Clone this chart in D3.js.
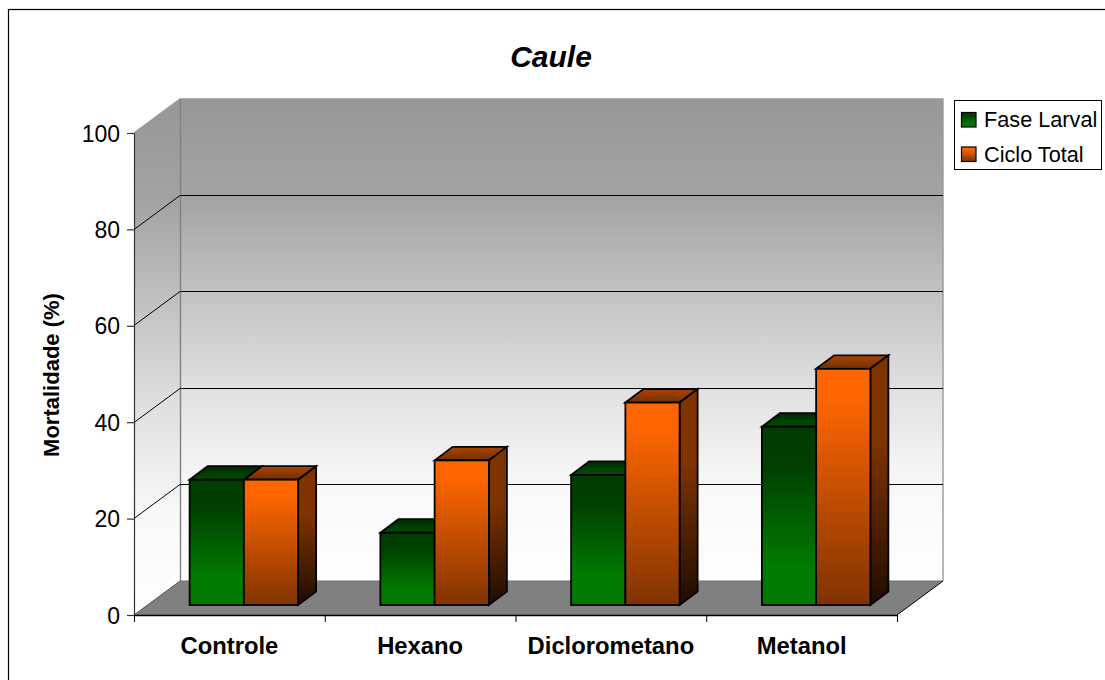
<!DOCTYPE html>
<html><head><meta charset="utf-8">
<script src="https://cdn.jsdelivr.net/npm/d3@7"></script>
<style>html,body{margin:0;padding:0;background:#fff}svg{display:block}text{font-family:"Liberation Sans",Arial,sans-serif;fill:#000}</style>
</head><body><svg id="c" width="1105" height="680"></svg>
<script>
const categories=["Controle","Hexano","Diclorometano","Metanol"];
const seriesNames=["Fase Larval","Ciclo Total"];
const faseLarval=[26,15,27,37];
const cicloTotal=[26,30,42,49];
const yTicks=[0,20,40,60,80,100];
const titleText="Caule", yTitle="Mortalidade (%)";

const svg=d3.select("#c");
const X0=134,X1=897,Y0=615,Y100=133,DX=46,DY=34; // plot box and wall depth
const barDX=18,barDY=13.5,barFrontDX=14.5,barFrontDY=10;
const x=d3.scaleBand().domain(categories).range([X0,X1]);
const y=d3.scaleLinear().domain([0,100]).range([Y0,Y100]);
const s=d3.scaleBand().domain(seriesNames).range([0,108.5]);
const colors={
 "Fase Larval":{front:[["0%","#003c00"],["22%","#004000"],["78%","#007a00"],["100%","#007a00"]],top:["#002800","#005000"]},
 "Ciclo Total":{front:[["0%","#ff6600"],["12%","#ff6600"],["100%","#7f3300"]],side:[["0%","#7f3300"],["35%","#7f3300"],["100%","#1f0c00"]],top:["#ad4500","#703000"]}
};
const defs=svg.append("defs");
function grad(id,stops){const g=defs.append("linearGradient").attr("id",id).attr("x1",0).attr("y1",0).attr("x2",0).attr("y2",1);
 stops.forEach(([o,c])=>g.append("stop").attr("offset",o).attr("stop-color",c));}
grad("wall",[["0%","#979797"],["20%","#a3a3a3"],["40%","#c2c2c2"],["60%","#e0e0e0"],["80%","#f8f8f8"],["100%","#ffffff"]]);
grad("f0",colors["Fase Larval"].front);
grad("f1",colors["Ciclo Total"].front);
grad("s1",colors["Ciclo Total"].side);
grad("t0",[["0%",colors["Fase Larval"].top[0]],["100%",colors["Fase Larval"].top[1]]]);
grad("t1",[["0%",colors["Ciclo Total"].top[0]],["100%",colors["Ciclo Total"].top[1]]]);

// outer frame
svg.append("rect").attr("x",8.5).attr("y",9.5).attr("width",1200).attr("height",800).attr("fill","#fff").attr("stroke","#000").attr("stroke-width",1.2);

const poly=(pts)=>pts.map(p=>p.join(",")).join(" ");
// walls
svg.append("polygon").attr("points",poly([[X0,Y100],[X0+DX,Y100-DY],[X0+DX,Y0-DY],[X0,Y0]])).attr("fill","url(#wall)");
svg.append("rect").attr("x",X0+DX).attr("y",Y100-DY).attr("width",X1-X0).attr("height",Y0-Y100).attr("fill","url(#wall)");
// wall outline
svg.append("polyline").attr("points",poly([[X0,Y100],[X0+DX,Y100-DY],[X1+DX,Y100-DY],[X1+DX,Y0-DY]])).attr("fill","none").attr("stroke","#999").attr("stroke-width",1.4);
svg.append("line").attr("x1",X0+DX+.5).attr("x2",X0+DX+.5).attr("y1",Y100-DY).attr("y2",Y0-DY).attr("stroke","#808080").attr("stroke-width",1.4);
// grid
yTicks.filter(v=>v>0&&v<100).forEach(v=>{
 const gy=Math.floor(y(v))+.5;
 svg.append("polyline").attr("points",poly([[X0,gy],[X0+DX,gy-DY],[X1+DX,gy-DY]])).attr("fill","none").attr("stroke","#000").attr("stroke-width",1);
});
// floor
svg.append("polygon").attr("points",poly([[X0,Y0],[X0+DX,Y0-DY],[X1+DX,Y0-DY],[X1,Y0]])).attr("fill","#808080");
svg.append("line").attr("x1",X0+DX).attr("x2",X1+DX).attr("y1",Y0-DY).attr("y2",Y0-DY).attr("stroke","#6e6e6e").attr("stroke-width",1.2);
svg.append("line").attr("x1",X0).attr("y1",Y0).attr("x2",X0+DX).attr("y2",Y0-DY).attr("stroke","#555").attr("stroke-width",1);
svg.append("line").attr("x1",X1).attr("y1",Y0).attr("x2",X1+DX).attr("y2",Y0-DY).attr("stroke","#000").attr("stroke-width",1);

// bars
const rows=[faseLarval,cicloTotal];
const offset=(x.bandwidth()-s.range()[1])/2;
categories.forEach((cat,ci)=>{
 const g=svg.append("g").attr("stroke","#000").attr("stroke-width",1.8).attr("stroke-linejoin","miter");
 seriesNames.forEach((name,si)=>{
  const v=rows[si][ci];
  const xa=x(cat)+offset+barFrontDX+s(name), xb=xa+s.bandwidth();
  const top=y(v)-barFrontDY, bot=y(0)-barFrontDY;
  g.append("polygon").attr("points",poly([[xa,top],[xa+barDX,top-barDY],[xb+barDX,top-barDY],[xb,top]])).attr("fill",`url(#t${si})`);
  if(si==1) g.append("polygon").attr("points",poly([[xb,top],[xb+barDX,top-barDY],[xb+barDX,bot-barDY],[xb,bot]])).attr("fill","url(#s1)");
  g.append("rect").attr("x",xa).attr("y",top).attr("width",xb-xa).attr("height",bot-top).attr("fill",`url(#f${si})`);
 });
});

// axes
const yAxis=svg.append("g").attr("transform",`translate(${X0},0)`).call(d3.axisLeft(y).tickValues(yTicks).tickSize(7).tickPadding(7).tickSizeOuter(0));
yAxis.selectAll("text").attr("font-size",23).style("font-family",'"Liberation Sans"').attr("dy","0.35em");
yAxis.selectAll("line,path").attr("stroke","#333").attr("stroke-width",1.2);
const xAxis=svg.append("g").attr("transform",`translate(0,${Y0})`).call(d3.axisBottom(x).tickSize(0).tickPadding(22));
xAxis.select("path").attr("stroke","#000").attr("stroke-width",1.4);
xAxis.selectAll("text").attr("font-size",23.8).attr("font-weight","bold").style("font-family",'"Liberation Sans"');
x.domain().concat(["_end"]).forEach((c,i)=>{
 const px=c==="_end"?X1:x(c);
 svg.append("line").attr("x1",px+.5).attr("x2",px+.5).attr("y1",Y0).attr("y2",Y0+7).attr("stroke","#000").attr("stroke-width",1);
});

// titles
svg.append("text").attr("x",551).attr("y",67).attr("text-anchor","middle").attr("font-size",30).attr("font-weight","bold").attr("font-style","italic").text(titleText);
svg.append("text").attr("transform","translate(59,375) rotate(-90)").attr("text-anchor","middle").attr("font-size",22).attr("font-weight","bold").text(yTitle);

// legend
svg.append("rect").attr("x",954.5).attr("y",100.5).attr("width",147).attr("height",69).attr("fill","#fff").attr("stroke","#000").attr("stroke-width",1);
seriesNames.forEach((name,i)=>{
 const ly=112.5+i*34.5;
 svg.append("rect").attr("x",961.5).attr("y",ly).attr("width",14.5).attr("height",14.5).attr("fill",`url(#f${i})`).attr("stroke","#000").attr("stroke-width",1.2);
 svg.append("text").attr("x",984).attr("y",ly+14.5).attr("font-size",21.7).text(name);
});
</script></body></html>
